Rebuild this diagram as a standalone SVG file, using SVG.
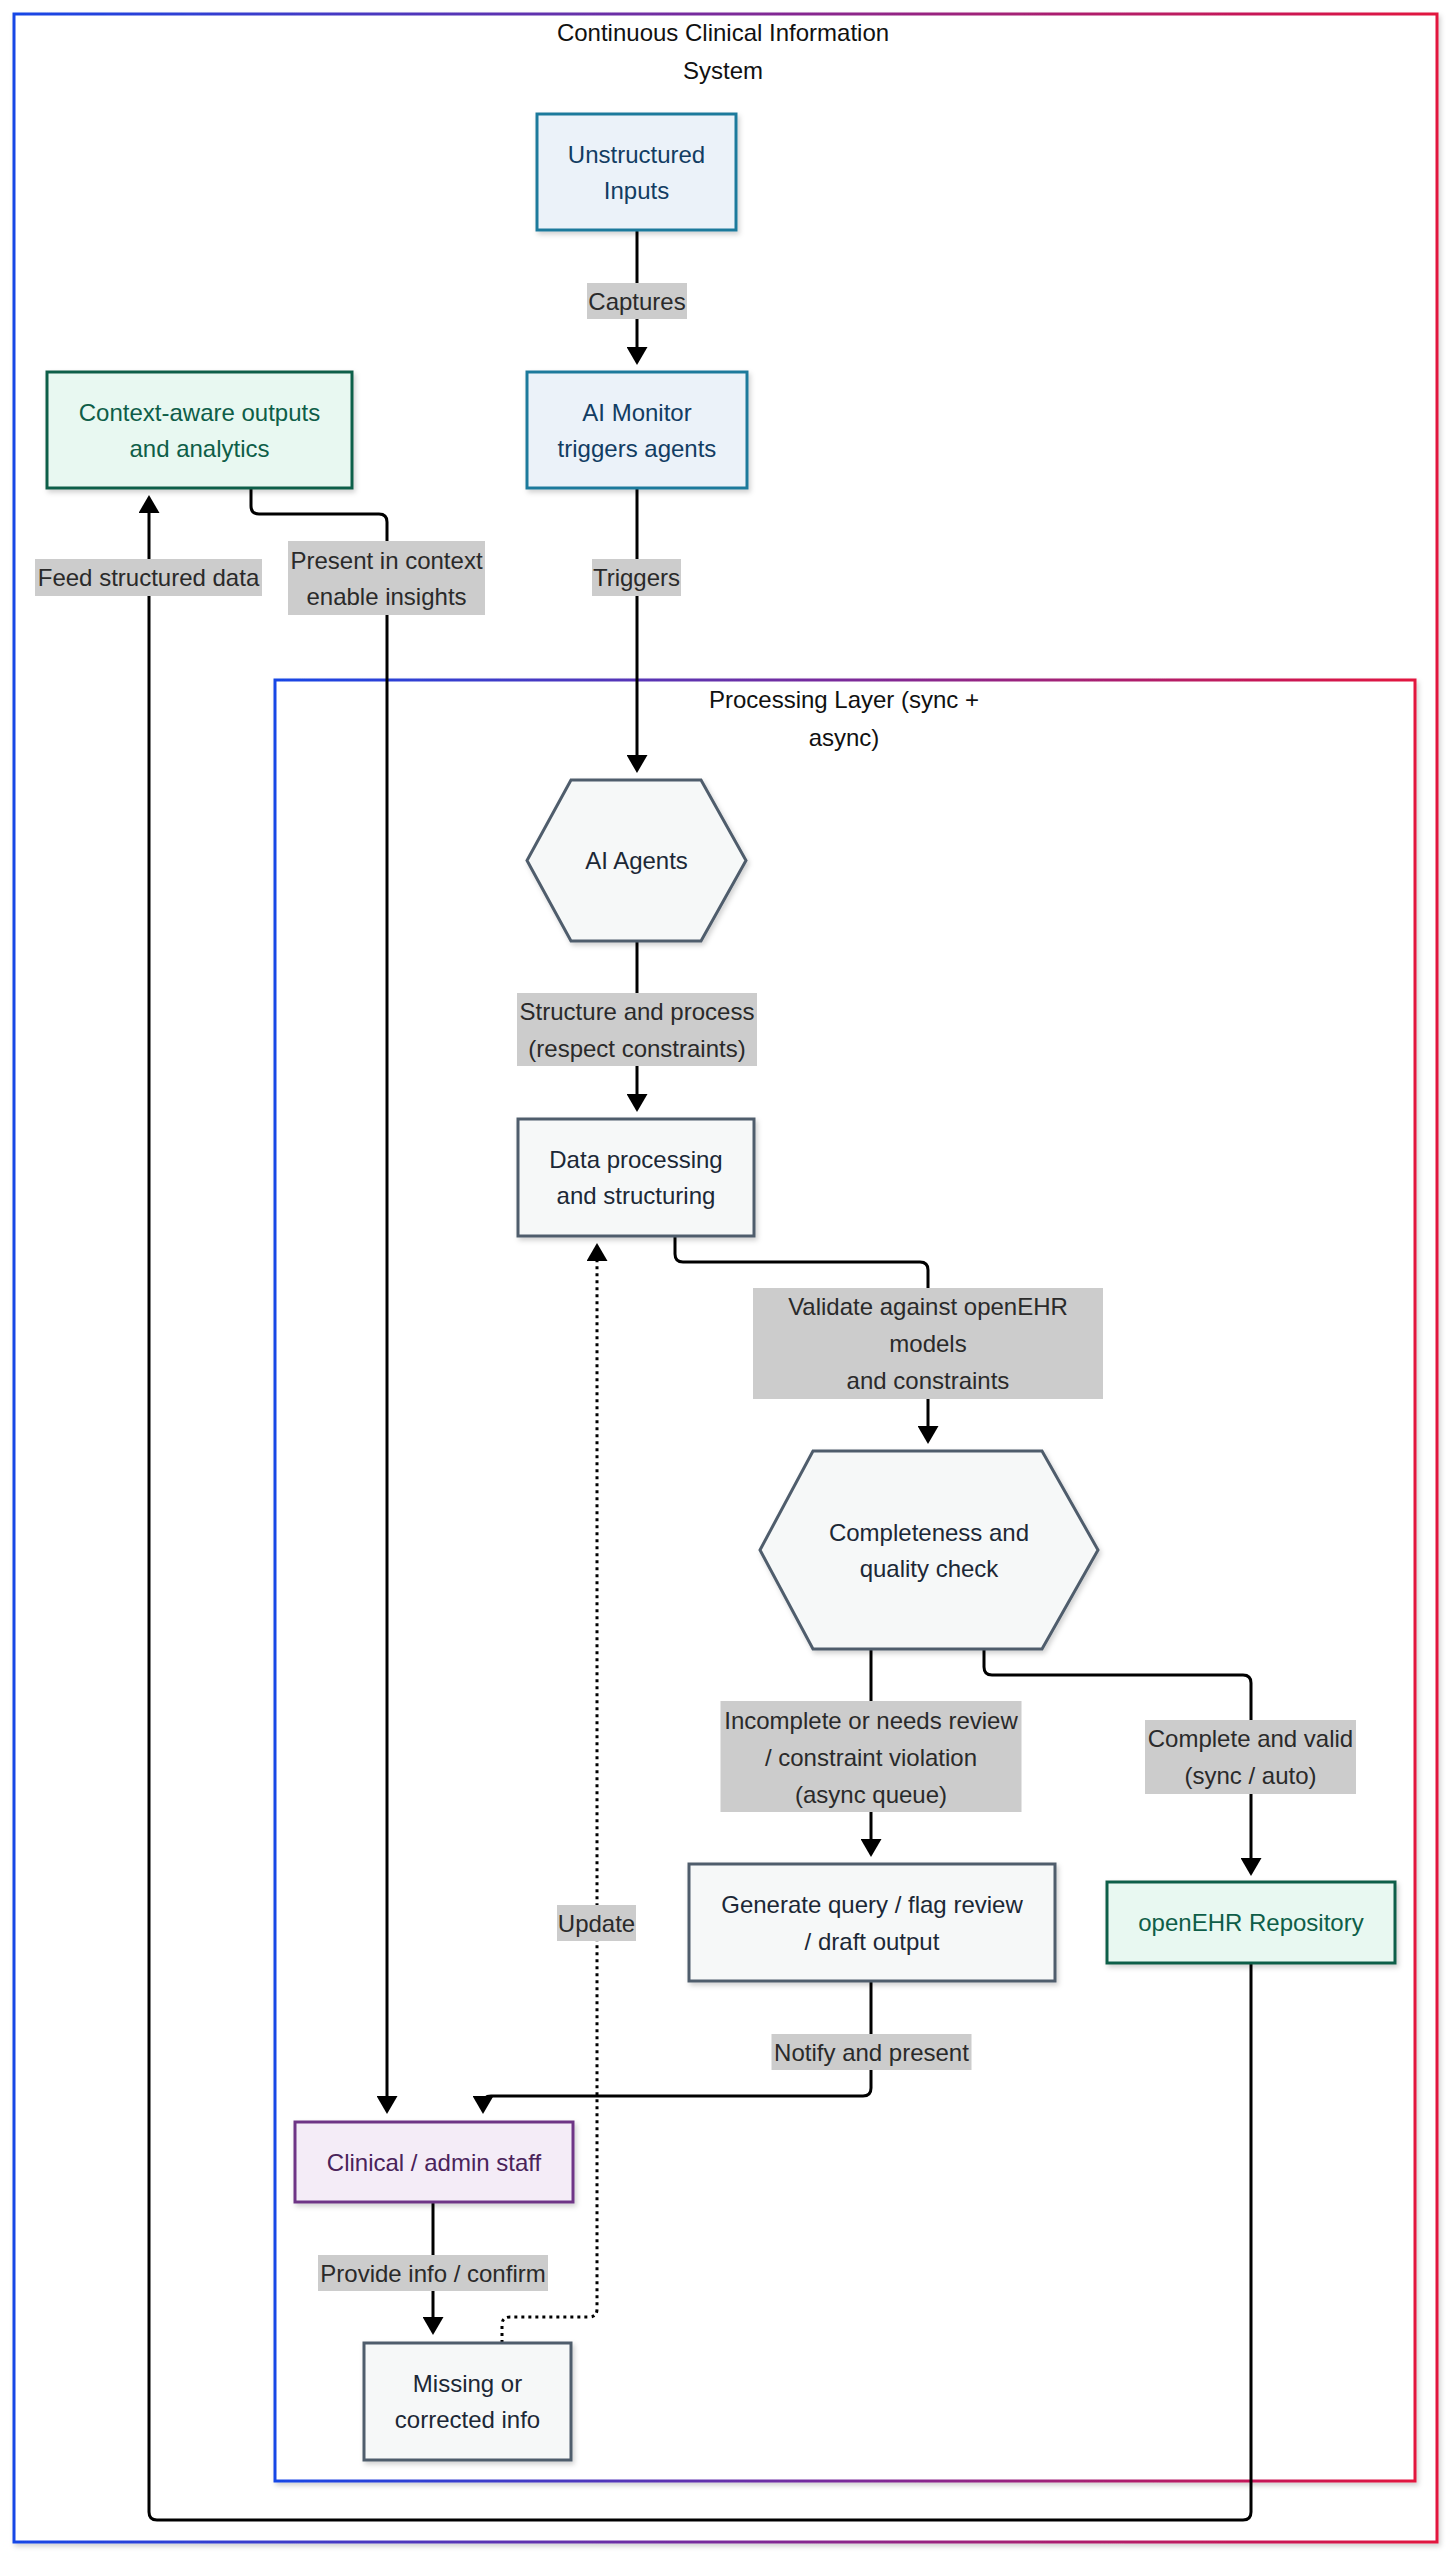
<svg xmlns="http://www.w3.org/2000/svg" width="1456" height="2565" viewBox="0 0 1456 2565">
<defs>
  <linearGradient id="frameGrad" x1="0" y1="0" x2="1" y2="0">
    <stop offset="0" stop-color="#1846e6"/>
    <stop offset="0.5" stop-color="#7a2a9a"/>
    <stop offset="1" stop-color="#e2123e"/>
  </linearGradient>
  <filter id="shadow" x="-10%" y="-10%" width="130%" height="130%">
    <feDropShadow dx="2" dy="3" stdDeviation="2.5" flood-color="#000" flood-opacity="0.18"/>
  </filter>
  <marker id="arrow" viewBox="0 0 18 21" refX="14" refY="10.5" markerWidth="18" markerHeight="21" markerUnits="userSpaceOnUse" orient="auto">
    <path d="M0,0 L18,10.5 L0,21 z" fill="#000"/>
  </marker>
  <style>
    text { font-family: "Liberation Sans", Arial, sans-serif; font-size: 24px; text-anchor: middle; dominant-baseline: central; }
    .frame { fill: #fff; stroke: url(#frameGrad); stroke-width: 3; filter: url(#shadow); }
    .ftitle { fill: #111; }
    .blue { fill: #ebf2f9; stroke: #1f7a9c; stroke-width: 3; filter: url(#shadow); }
    .blue-t { fill: #123d63; }
    .green { fill: #e8f8f1; stroke: #0e5e48; stroke-width: 3; filter: url(#shadow); }
    .green-t { fill: #0e5e48; }
    .gray { fill: #f6f8f8; stroke: #4f5d6c; stroke-width: 3; filter: url(#shadow); }
    .gray-t { fill: #1c2836; }
    .purple { fill: #f4ecf7; stroke: #6e3686; stroke-width: 3; filter: url(#shadow); }
    .purple-t { fill: #4a235a; }
    .edge { fill: none; stroke: #000; stroke-width: 3; }
    .dotted { stroke-dasharray: 3 4; }
    .lbl { fill: #cccccc; }
    .lbl-t { fill: #2a2a2a; }
  </style>
</defs>

<g id="cluster-outer">
  <rect class="frame" x="14" y="14" width="1423" height="2528"/>
  <text class="ftitle" x="723" y="32">Continuous Clinical Information</text>
  <text class="ftitle" x="723" y="70">System</text>
</g>
<g id="cluster-processing">
  <rect class="frame" x="275" y="680" width="1140" height="1801"/>
  <text class="ftitle" x="844" y="699">Processing Layer (sync +</text>
  <text class="ftitle" x="844" y="737">async)</text>
</g>

<g id="connectors">
  <path class="edge" d="M637,230 L637,361" marker-end="url(#arrow)"/>
  <path class="edge" d="M637,488 L637,769" marker-end="url(#arrow)"/>
  <path class="edge" d="M637,941 L637,1108" marker-end="url(#arrow)"/>
  <path class="edge" d="M675,1236 L675,1254 Q675,1262 683,1262 L920,1262 Q928,1262 928,1270 L928,1440" marker-end="url(#arrow)"/>
  <path class="edge" d="M871,1649 L871,1853" marker-end="url(#arrow)"/>
  <path class="edge" d="M984,1649 L984,1667 Q984,1675 992,1675 L1243,1675 Q1251,1675 1251,1683 L1251,1872" marker-end="url(#arrow)"/>
  <path class="edge" d="M1251,1963 L1251,2512 Q1251,2520 1243,2520 L157,2520 Q149,2520 149,2512 L149,499" marker-end="url(#arrow)"/>
  <path class="edge" d="M251,488 L251,506 Q251,514 259,514 L379,514 Q387,514 387,522 L387,2110" marker-end="url(#arrow)"/>
  <path class="edge" d="M871,1981 L871,2088 Q871,2096 863,2096 L491,2096 Q483,2096 483,2104 L483,2110" marker-end="url(#arrow)"/>
  <path class="edge" d="M433,2202 L433,2331" marker-end="url(#arrow)"/>
  <path class="edge dotted" d="M502,2343 L502,2325 Q502,2317 510,2317 L589,2317 Q597,2317 597,2309 L597,1247" marker-end="url(#arrow)"/>
</g>

<g id="edge-labels">
  <g id="lbl-captures"><rect class="lbl" x="587" y="283" width="100" height="36"/><text class="lbl-t" x="637" y="301">Captures</text></g>
  <g id="lbl-triggers"><rect class="lbl" x="592" y="559" width="89" height="37"/><text class="lbl-t" x="636.5" y="577.5">Triggers</text></g>
  <g id="lbl-feed"><rect class="lbl" x="35" y="559" width="227" height="37"/><text class="lbl-t" x="148.5" y="577.5">Feed structured data</text></g>
  <g id="lbl-present"><rect class="lbl" x="288" y="541" width="197" height="74"/><text class="lbl-t" x="386.5" y="560">Present in context</text><text class="lbl-t" x="386.5" y="596">enable insights</text></g>
  <g id="lbl-structure"><rect class="lbl" x="517" y="993" width="240" height="73"/><text class="lbl-t" x="637" y="1011">Structure and process</text><text class="lbl-t" x="637" y="1048">(respect constraints)</text></g>
  <g id="lbl-validate"><rect class="lbl" x="753" y="1288" width="350" height="111"/><text class="lbl-t" x="928" y="1306">Validate against openEHR</text><text class="lbl-t" x="928" y="1343">models</text><text class="lbl-t" x="928" y="1380">and constraints</text></g>
  <g id="lbl-incomplete"><rect class="lbl" x="720.5" y="1701" width="301" height="111"/><text class="lbl-t" x="871" y="1720">Incomplete or needs review</text><text class="lbl-t" x="871" y="1757">/ constraint violation</text><text class="lbl-t" x="871" y="1794">(async queue)</text></g>
  <g id="lbl-complete"><rect class="lbl" x="1145" y="1720" width="211" height="74"/><text class="lbl-t" x="1250.5" y="1738">Complete and valid</text><text class="lbl-t" x="1250.5" y="1775">(sync / auto)</text></g>
  <g id="lbl-update"><rect class="lbl" x="557" y="1905" width="79" height="36"/><text class="lbl-t" x="596.5" y="1923">Update</text></g>
  <g id="lbl-notify"><rect class="lbl" x="771.5" y="2034" width="200" height="36"/><text class="lbl-t" x="871.5" y="2052">Notify and present</text></g>
  <g id="lbl-provide"><rect class="lbl" x="318" y="2255" width="230" height="36"/><text class="lbl-t" x="433" y="2273">Provide info / confirm</text></g>
</g>

<g id="node-unstructured">
  <rect class="blue" x="537" y="114" width="199" height="116"/>
  <text class="blue-t" x="636.5" y="154">Unstructured</text>
  <text class="blue-t" x="636.5" y="190">Inputs</text>
</g>
<g id="node-monitor">
  <rect class="blue" x="527" y="372" width="220" height="116"/>
  <text class="blue-t" x="637" y="412">AI Monitor</text>
  <text class="blue-t" x="637" y="448">triggers agents</text>
</g>
<g id="node-outputs">
  <rect class="green" x="47" y="372" width="305" height="116"/>
  <text class="green-t" x="199.5" y="412">Context-aware outputs</text>
  <text class="green-t" x="199.5" y="448">and analytics</text>
</g>
<g id="node-agents">
  <polygon class="gray" points="571,780 701,780 746,860.5 701,941 571,941 527,860.5"/>
  <text class="gray-t" x="636.5" y="860.5">AI Agents</text>
</g>
<g id="node-processing">
  <rect class="gray" x="518" y="1119" width="236" height="117"/>
  <text class="gray-t" x="636" y="1159.5">Data processing</text>
  <text class="gray-t" x="636" y="1195.5">and structuring</text>
</g>
<g id="node-check">
  <polygon class="gray" points="813,1451 1042,1451 1098,1550 1042,1649 813,1649 760,1550"/>
  <text class="gray-t" x="929" y="1532">Completeness and</text>
  <text class="gray-t" x="929" y="1568">quality check</text>
</g>
<g id="node-generate">
  <rect class="gray" x="689" y="1864" width="366" height="117"/>
  <text class="gray-t" x="872" y="1904">Generate query / flag review</text>
  <text class="gray-t" x="872" y="1941">/ draft output</text>
</g>
<g id="node-repo">
  <rect class="green" x="1107" y="1882" width="288" height="81"/>
  <text class="green-t" x="1251" y="1922.5">openEHR Repository</text>
</g>
<g id="node-staff">
  <rect class="purple" x="295" y="2122" width="278" height="80"/>
  <text class="purple-t" x="434" y="2162">Clinical / admin staff</text>
</g>
<g id="node-missing">
  <rect class="gray" x="364" y="2343" width="207" height="117"/>
  <text class="gray-t" x="467.5" y="2383.5">Missing or</text>
  <text class="gray-t" x="467.5" y="2419.5">corrected info</text>
</g>
</svg>
